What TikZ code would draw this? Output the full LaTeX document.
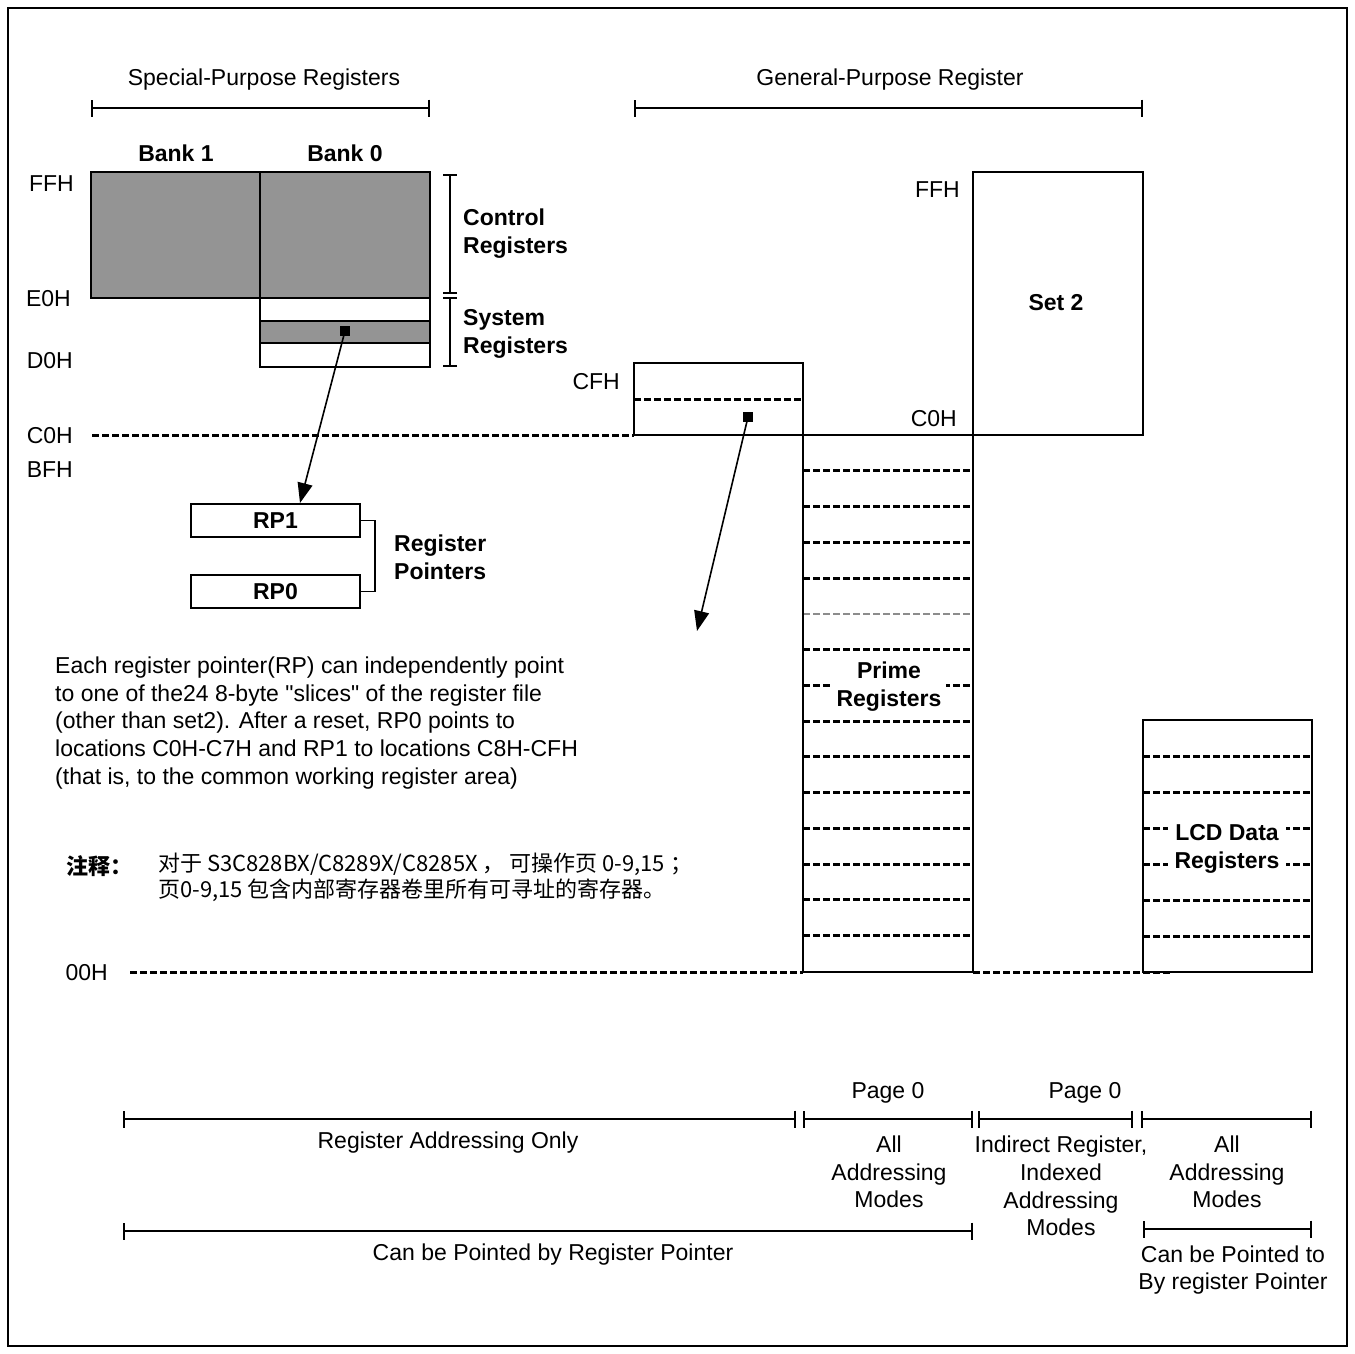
\documentclass[tikz,border=0pt]{standalone}
\usepackage{fontspec}
\setmainfont{Liberation Sans}[Ligatures=TeXOff]
\newfontfamily\cjk{Noto Sans CJK SC}
\usetikzlibrary{arrows.meta}
\begin{document}
\begin{tikzpicture}[x=1pt,y=-1pt,
  every node/.style={inner sep=0pt, font=\fontsize{23}{27.6}\selectfont},
  txt/.style={align=center},
  boldtxt/.style={font=\fontsize{23}{28}\selectfont\bfseries},
  regbox/.style={draw, line width=1.6pt},
  grayfill/.style={fill=black!42},
  sepline/.style={dash pattern=on 7pt off 3pt, line width=3pt},
  faintline/.style={dash pattern=on 7pt off 3pt, line width=1.1pt, draw=black!45},
  spanbar/.style={line width=1.8pt, {Bar[width=17pt,line width=1.8pt]}-{Bar[width=17pt,line width=1.8pt]}},
  bracebar/.style={line width=1.6pt, {Bar[width=14pt,line width=1.6pt]}-{Bar[width=14pt,line width=1.6pt]}},
  ptrarrow/.style={line width=1.6pt, -{Triangle[length=20pt,width=15pt]}},
  dotmark/.style={fill, minimum size=10pt, inner sep=0pt},
  addrlabel/.style={anchor=east},
]
\useasboundingbox (0,0) rectangle (1355,1353);
\draw[line width=1.2pt] (8,8) rectangle (1347,1346);

% ---------- headings ----------
\node (spr) at (264,80) {Special-Purpose Registers};
\draw[spanbar] (91,108) -- (430,108);
\node (gpr) at (890,80) {General-Purpose Register};
\draw[spanbar] (634,108) -- (1143,108);

\node[boldtxt] (b1) at (176,153) {Bank 1};
\node[boldtxt] (b0) at (345,153) {Bank 0};

% ---------- special-purpose banks ----------
\draw[regbox, grayfill] (91,172) rectangle (260,298);
\draw[regbox, grayfill] (260,172) rectangle (430,298);
\draw[regbox] (260,298) rectangle (430,367);
\draw[regbox, grayfill] (260,321) rectangle (430,343);

\draw[bracebar] (450,174) -- (450,294);
\draw[bracebar] (450,297) -- (450,367);
\node[boldtxt, align=left, anchor=west] (ctl) at (463,234) {Control\\Registers};
\node[boldtxt, align=left, anchor=west] (sys) at (463,334) {System\\Registers};

% ---------- address labels ----------
\node[addrlabel] (lffh) at (74,184) {FFH};
\node[addrlabel] (le0h) at (71,299) {E0H};
\node[addrlabel] (ld0h) at (73,361) {D0H};
\node[addrlabel] (lc0h) at (73,436) {C0H};
\node[addrlabel] (lbfh) at (73,470) {BFH};
\node[addrlabel] (l00h) at (108,973) {00H};
\node[addrlabel] (lcfh) at (620,382) {CFH};
\node[addrlabel] (sffh) at (960,190) {FFH};
\node[addrlabel] (sc0h) at (957,419) {C0H};

% ---------- register pointers ----------
\node[regbox, minimum width=169pt, minimum height=33pt, boldtxt] (rp1) at (275.5,520.5) {RP1};
\node[regbox, minimum width=169pt, minimum height=33pt, boldtxt] (rp0) at (275.5,591.5) {RP0};
\draw[line width=1.6pt] (rp1.east) -- ++(14,0) |- (rp0.east);
\node[boldtxt, align=left, anchor=west] (rpl) at (394,557) {Register\\Pointers};

\node[dotmark] (d1) at (345,331) {};
\coordinate (t1) at (300,503);
\draw[ptrarrow] (d1.center) -- (t1);

% ---------- level lines ----------
\draw[sepline] (92,435) -- (634,435);
\draw[sepline] (130,972) -- (803,972);
\draw[sepline] (973,972) -- (1170,972);

% ---------- working register block ----------
\draw[regbox] (634,363) rectangle (803,435);
\draw[sepline] (634,399) -- (803,399);
\node[dotmark] (d2) at (748,417) {};
\coordinate (t2) at (697,631);
\draw[ptrarrow] (d2.center) -- (t2);

% ---------- set 2 ----------
\draw[regbox] (973,172) rectangle (1143,435);
\node[boldtxt] (set2) at (1056,303) {Set 2};

% ---------- prime registers ----------
\foreach \yy in {470,506,542,578,649,685,721,756,792,828,864,899,935}
  \draw[sepline] (803,\yy) -- (973,\yy);
\draw[faintline] (803,614) -- (973,614);
\draw[regbox] (803,435) rectangle (973,972);
\node[boldtxt, align=center, fill=white, inner xsep=5pt, inner ysep=2pt] (prime) at (889,687) {Prime\\Registers};

% ---------- LCD data registers ----------
\foreach \k in {1,...,6}
  \draw[sepline] (1143,720+36*\k) -- (1312,720+36*\k);
\draw[regbox] (1143,720) rectangle (1312,972);
\node[boldtxt, align=center, fill=white, inner xsep=7pt, inner ysep=2pt] (lcd) at (1227,849) {LCD Data\\Registers};

% ---------- explanatory text ----------
\node[align=left, anchor=west] (note) at (55,723) {Each register pointer(RP) can independently point\\to one of the24 8-byte "slices" of the register file\\(other than set2). After a reset, RP0 points to\\locations C0H-C7H and RP1 to locations C8H-CFH\\(that is, to the common working register area)};

\node[anchor=west, font=\cjk\fontsize{22}{26}\selectfont\bfseries] (zs) at (66,866) {注释：};
\node[anchor=north west, align=left, font=\cjk\fontsize{22}{26}\selectfont] (zt) at (158,853) {对于 S3C828BX/C8289X/C8285X ，\ 可操作页 0-9,15 ；\\页0-9,15 包含内部寄存器卷里所有可寻址的寄存器。};

% ---------- addressing ranges ----------
\node (pg1) at (888,1093) {Page 0};
\node (pg2) at (1085,1093) {Page 0};
\draw[spanbar] (123,1119) -- (796,1119);
\draw[spanbar] (803,1119) -- (973,1119);
\draw[spanbar] (978,1119) -- (1133,1119);
\draw[spanbar] (1141,1119) -- (1312,1119);
\node (rao) at (448,1143) {Register Addressing Only};
\node[txt] (am1) at (889,1172) {All\\Addressing\\Modes};
\node[txt] (iim) at (1061,1186) {Indirect Register,\\Indexed\\Addressing\\Modes};
\node[txt] (am2) at (1227,1172) {All\\Addressing\\Modes};

\draw[spanbar] (123,1231) -- (973,1231);
\node (cbp) at (553,1255) {Can be Pointed by Register Pointer};
\draw[spanbar] (1143,1229) -- (1312,1229);
\node[txt] (cbt) at (1233,1270) {Can be Pointed to\\By register Pointer};
\end{tikzpicture}
\end{document}
